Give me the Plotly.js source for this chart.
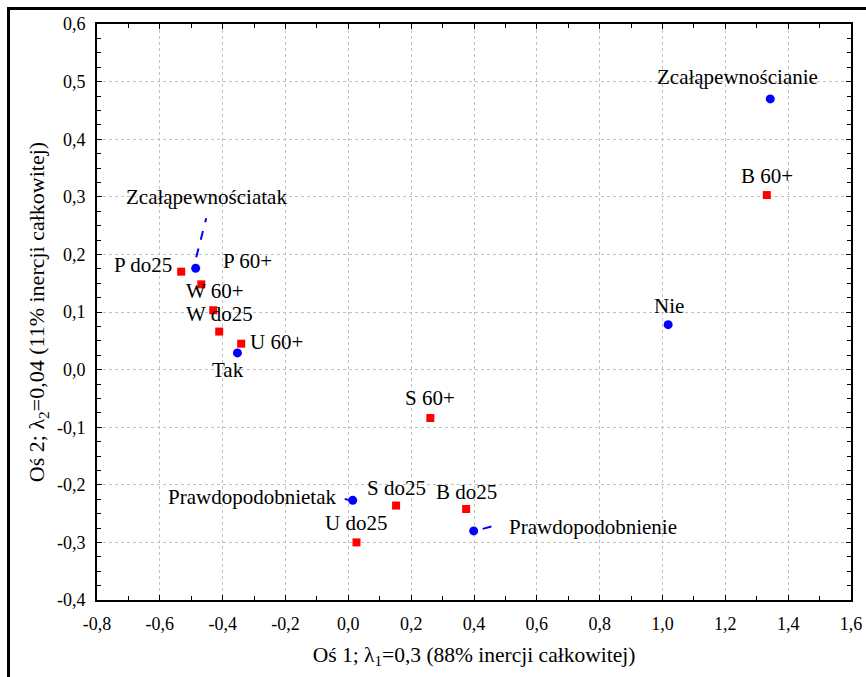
<!DOCTYPE html>
<html>
<head>
<meta charset="utf-8">
<script src="https://cdn.plot.ly/plotly-3.0.1.min.js"></script>
<style>
  html, body { margin: 0; padding: 0; background: #fff; }
  #wrap { position: relative; width: 866px; height: 677px; overflow: hidden; }
  #chart { width: 866px; height: 677px; }
  #frame { position: absolute; left: 7px; top: 7px; width: 900px; height: 700px;
           border-top: 3px solid #000; border-left: 3px solid #000; pointer-events: none; }
</style>
</head>
<body>
<div id="wrap"><div id="chart"></div><div id="frame"></div></div>
<script>
// ---- data ----
const blueNames = ['Zcałąpewnościanie', 'Nie', 'Zcałąpewnościatak', 'Tak', 'Prawdopodobnietak', 'Prawdopodobnienie'];
const blueX = [1.343, 1.018, -0.486, -0.353, 0.014, 0.399];
const blueY = [0.470, 0.078, 0.176, 0.029, -0.227, -0.280];

const redNames = ['B 60+', 'P do25', 'P 60+', 'W 60+', 'W do25', 'U 60+', 'S 60+', 'S do25', 'B do25', 'U do25'];
const redX = [1.332, -0.532, -0.468, -0.430, -0.411, -0.341, 0.261, 0.152, 0.375, 0.026];
const redY = [0.303, 0.170, 0.148, 0.103, 0.066, 0.045, -0.084, -0.236, -0.242, -0.300];

const xTickVals = [-0.8, -0.6, -0.4, -0.2, 0.0, 0.2, 0.4, 0.6, 0.8, 1.0, 1.2, 1.4, 1.6];
const xTickText = ['-0,8', '-0,6', '-0,4', '-0,2', '0,0', '0,2', '0,4', '0,6', '0,8', '1,0', '1,2', '1,4', '1,6'];
const yTickVals = [-0.4, -0.3, -0.2, -0.1, 0.0, 0.1, 0.2, 0.3, 0.4, 0.5, 0.6];
const yTickText = ['-0,4', '-0,3', '-0,2', '-0,1', '0,0', '0,1', '0,2', '0,3', '0,4', '0,5', '0,6'];

const xTitle = 'Oś 1; λ<sub>1</sub>=0,3 (88% inercji całkowitej)';
const yTitle = 'Oś 2; λ<sub>2</sub>=0,04 (11% inercji całkowitej)';

// ---- label placement (pixel offsets, screen coords: dx right, dy down) ----
const blueLabelOffsets = [[-33, -22], [1, -19], [11, -71], [-9, 17], [-101, -3], [119, -4]];
const redLabelOffsets = [[0, -19], [-38, -7], [46, -23], [2, -19], [0, -18], [35, -2], [0, -20], [0, -18], [0, -17], [-1, -19]];
// leader lines for some blue points: [index, x0, y0, x1, y1] in pixels (y up)
const blueLeaders = [[2, 0.6, 11, 10.6, 50], [4, -8, 1.5, -3, 0], [5, 9, 2, 20, 5]];

const FONT = 'Liberation Serif, Times New Roman, serif';
const BLUE = '#0000ff', RED = '#ff0000';

const traces = [
  { type: 'scatter', mode: 'markers', x: blueX, y: blueY, text: blueNames,
    marker: { color: BLUE, size: 9, symbol: 'circle' }, hoverinfo: 'text' },
  { type: 'scatter', mode: 'markers', x: redX, y: redY, text: redNames,
    marker: { color: RED, size: 8, symbol: 'square' }, hoverinfo: 'text' }
];

const annotations = [];
blueNames.forEach((n, i) => annotations.push({
  x: blueX[i], y: blueY[i], xref: 'x', yref: 'y', text: n, showarrow: false,
  xshift: blueLabelOffsets[i][0], yshift: -blueLabelOffsets[i][1],
  xanchor: 'center', yanchor: 'middle', font: { family: FONT, size: 21, color: '#000' }
}));
redNames.forEach((n, i) => annotations.push({
  x: redX[i], y: redY[i], xref: 'x', yref: 'y', text: n, showarrow: false,
  xshift: redLabelOffsets[i][0], yshift: -redLabelOffsets[i][1],
  xanchor: 'center', yanchor: 'middle', font: { family: FONT, size: 21, color: '#000' }
}));

const shapes = blueLeaders.map(l => ({
  type: 'line', xref: 'x', yref: 'y', xsizemode: 'pixel', ysizemode: 'pixel',
  xanchor: blueX[l[0]], yanchor: blueY[l[0]],
  x0: l[1], y0: l[2], x1: l[3], y1: l[4],
  line: { color: BLUE, width: 2, dash: 'dash' }
}));

const axisCommon = {
  showline: true, linecolor: '#000', linewidth: 2, mirror: 'allticks',
  ticks: 'inside', ticklen: 5, tickwidth: 1, tickcolor: '#000',
  showgrid: true, gridcolor: '#c0c0c0', griddash: 'dot', gridwidth: 1,
  zeroline: false, tickmode: 'array',
  tickfont: { family: FONT, size: 18, color: '#000' }
};

const layout = {
  width: 866, height: 677,
  margin: { l: 97, r: 15, t: 24, b: 77 },
  paper_bgcolor: '#fff', plot_bgcolor: '#fff',
  showlegend: false,
  font: { family: FONT, color: '#000' },
  xaxis: Object.assign({}, axisCommon, {
    range: [-0.8, 1.6], tickvals: xTickVals, ticktext: xTickText,
    ticklabelstandoff: 6,
    minor: { tickmode: 'linear', tick0: -0.8, dtick: 0.1, ticks: 'inside', ticklen: 4, tickcolor: '#000', showgrid: false },
    title: { text: xTitle, font: { family: FONT, size: 21.5, color: '#000' }, standoff: 14 }
  }),
  yaxis: Object.assign({}, axisCommon, {
    range: [-0.4, 0.6], tickvals: yTickVals, ticktext: yTickText,
    ticklabelstandoff: 6,
    minor: { tickmode: 'linear', tick0: -0.4, dtick: 0.025, ticks: 'inside', ticklen: 4, tickcolor: '#000', showgrid: false },
    title: { text: yTitle, font: { family: FONT, size: 22, color: '#000' }, standoff: 6 }
  }),
  annotations: annotations,
  shapes: shapes
};

Plotly.newPlot('chart', traces, layout, { staticPlot: true, displayModeBar: false });
</script>
</body>
</html>
